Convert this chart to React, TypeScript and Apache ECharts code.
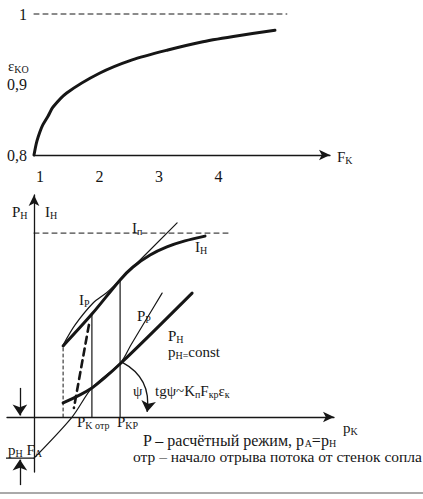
import React, { useEffect, useRef } from "react";
import * as echarts from "echarts";

// ---------- top panel: ε_KO vs F_K ----------
const fkValues = [0.9, 0.925, 0.95, 1.0, 1.05, 1.135, 1.22, 1.45, 2.0, 2.55, 3.15, 3.7, 4.25, 4.95];
const epsKo = [0.8, 0.811, 0.82, 0.833, 0.843, 0.855, 0.868, 0.888, 0.916, 0.935, 0.949, 0.96, 0.968, 0.977];
const epsLimit = 1;
const epsLimitEndFk = 5.15;
const fkTicks = [1, 2, 3, 4];
const epsTicks = [0.8, 0.9, 1];
const epsTickLabels = ["0,8", "0,9", "1"];

// ---------- bottom panel: P, I vs p_K (schematic units) ----------
const iH_pk = [0.97, 1.93, 2.87, 3.3, 3.87, 4.43, 5.03, 5.7];
const iH = [2.37, 3.43, 4.57, 5.0, 5.4, 5.67, 5.87, 6.03];
const iP_pk = [0.97, 1.37, 1.97, 2.43, 2.87, 4.77];
const iP = [2.4, 3.07, 3.8, 4.15, 4.57, 6.47];
const iVac = 6.13;
const iVacEndPk = 6.53;
const pH_pk = [0.97, 1.93, 2.9, 5.27];
const pH = [0.47, 0.97, 1.8, 4.13];
const pP_pk = [0, 1.27, 1.93, 2.9, 3.23, 3.77, 4.27];
const pP = [-1.37, 0, 0.97, 1.83, 2.4, 3.3, 4.13];
const sepDash_pk = [1.83, 1.33];
const sepDash = [3.07, 0.3];
const psiArrow_pk = [2.93, 3.77];
const psiArrow = [1.83, 0.17];
const pHFA = -1.37; // -p_H F_A
const dimArrowPk = -0.47;
const dimTopFrom = 0.97;
const dimBottomFrom = -2.27;
const dimLeftPk = -0.93;

const INK = "#161616";
const FONT = "'Liberation Serif', 'DejaVu Serif', serif";
const FS = 15;
const SUB = 10;

const zip = (xs: number[], ys: number[]) => xs.map((x, i) => [x, ys[i]]);

function makeRich(fs: number) {
  return {
    a: { fontFamily: FONT, fontSize: fs, fill: INK, color: INK },
    s: { fontFamily: FONT, fontSize: SUB, fill: INK, color: INK, padding: [6, 0, 0, 0] },
  };
}

function txt(text: string, x: number, y: number, fs: number = FS) {
  return {
    type: "text",
    x,
    y,
    silent: true,
    style: {
      text,
      fill: INK,
      fontFamily: FONT,
      fontSize: fs,
      textAlign: "left",
      textVerticalAlign: "middle",
      verticalAlign: "middle",
      rich: makeRich(fs),
    },
  };
}

function lineSeries(data: number[][], grid: number, width: number, extra: any = {}) {
  return {
    type: "line",
    xAxisIndex: grid,
    yAxisIndex: grid,
    data,
    showSymbol: false,
    symbol: "none",
    silent: true,
    clip: false,
    smooth: extra.smooth ?? false,
    lineStyle: { color: INK, width, type: extra.type ?? "solid", cap: "round", join: "round" },
  };
}

function arrowSeries(coords: number[][][], curveness = 0) {
  return {
    type: "lines",
    coordinateSystem: "cartesian2d",
    xAxisIndex: 1,
    yAxisIndex: 1,
    clip: false,
    silent: true,
    symbol: ["none", "arrow"],
    symbolSize: [7, 11],
    lineStyle: { color: INK, width: 1.3, curveness, opacity: 1 },
    data: coords.map((c) => ({ coords: c })),
  };
}

export default function App() {
  const ref = useRef<HTMLDivElement>(null);
  useEffect(() => {
    document.body.style.margin = "0";
    const chart = echarts.init(ref.current!, null, { renderer: "svg" });
    const axisLineStyle = { color: INK, width: 1.3 };
    const option: any = {
      animation: false,
      backgroundColor: "#ffffff",
      textStyle: { fontFamily: FONT },
      grid: [
        { left: 34, top: 14, width: 296, height: 141 },
        { left: 7, top: 195, width: 327, height: 277 },
      ],
      xAxis: [
        {
          gridIndex: 0,
          type: "value",
          min: 0.9,
          max: 5.875,
          axisLine: { show: true, symbol: ["none", "arrow"], symbolSize: [8, 11], lineStyle: axisLineStyle },
          axisTick: { show: false },
          splitLine: { show: false },
          axisLabel: {
            customValues: fkTicks,
            margin: 13,
            fontFamily: FONT,
            fontSize: 16,
            color: INK,
            formatter: (v: number) => String(v),
          },
        },
        {
          gridIndex: 1,
          type: "value",
          min: -0.9,
          max: 10,
          axisLine: { show: true, onZero: true, symbol: ["none", "arrow"], symbolSize: [8, 11], lineStyle: axisLineStyle },
          axisTick: { show: false },
          splitLine: { show: false },
          axisLabel: { show: false },
        },
      ],
      yAxis: [
        {
          gridIndex: 0,
          type: "value",
          min: 0.8,
          max: 1,
          axisLine: { show: false },
          axisTick: { show: false },
          splitLine: { show: false },
          axisLabel: {
            customValues: epsTicks,
            margin: 7,
            fontFamily: FONT,
            fontSize: 16,
            color: INK,
            formatter: (v: number) => epsTickLabels[epsTicks.indexOf(v)] ?? "",
          },
        },
        {
          gridIndex: 1,
          type: "value",
          min: -1.833,
          max: 7.4,
          axisLine: { show: true, onZero: true, symbol: ["none", "arrow"], symbolSize: [8, 11], lineStyle: axisLineStyle },
          axisTick: { show: false },
          splitLine: { show: false },
          axisLabel: { show: false },
        },
      ],
      series: [
        // top
        lineSeries(zip(fkValues, epsKo), 0, 3, { smooth: 0.25 }),
        lineSeries([[fkValues[0], epsLimit], [epsLimitEndFk, epsLimit]], 0, 1, { type: [5, 4] }),
        // bottom
        lineSeries([[0, iVac], [iVacEndPk, iVac]], 1, 1, { type: [5, 4] }),
        lineSeries(zip(iH_pk, iH), 1, 3, { smooth: 0.3 }),
        lineSeries(zip(iP_pk, iP), 1, 1.2, { smooth: 0.3 }),
        lineSeries(zip(pH_pk, pH), 1, 3, { smooth: 0.3 }),
        lineSeries(zip(pP_pk, pP), 1, 1.2, { smooth: 0.3 }),
        lineSeries([[iH_pk[0], 0], [iH_pk[0], iH[0]]], 1, 1, { type: [3, 3] }),
        lineSeries([[iH_pk[1], 0], [iH_pk[1], iH[1]]], 1, 1.2),
        lineSeries([[iH_pk[2], 0], [iH_pk[2], iH[2]]], 1, 1.2),
        lineSeries(zip(sepDash_pk, sepDash), 1, 2.6, { type: [7, 5] }),
        lineSeries([[dimLeftPk, pHFA], [0, pHFA]], 1, 1.2),
        arrowSeries([
          [[dimArrowPk, dimTopFrom], [dimArrowPk, 0.05]],
          [[dimArrowPk, dimBottomFrom], [dimArrowPk, pHFA - 0.05]],
        ]),
        arrowSeries([[[psiArrow_pk[0], psiArrow[0]], [psiArrow_pk[1], psiArrow[1]]]], 0.35),
      ],
      graphic: [
        txt("{a|ε}{s|KO}", 8, 66),
        txt("{a|F}{s|K}", 337, 157),
        txt("{a|P}{s|H}", 12, 212),
        txt("{a|I}{s|H}", 45, 212),
        txt("{a|I}{s|п}", 132, 228),
        txt("{a|I}{s|H}", 195, 247),
        txt("{a|I}{s|Р}", 79, 300),
        txt("{a|P}{s|Р}", 137, 316),
        txt("{a|P}{s|H}", 168, 336),
        txt("{a|p}{s|H=}{a|const}", 168, 352),
        txt("{a|ψ}", 133, 391),
        txt("{a|tgψ~K}{s|п}{a|F}{s|кр}{a|ε}{s|к}", 155, 391),
        txt("{a|P}{s|K отр}", 77, 422),
        txt("{a|P}{s|KP}", 117, 422),
        txt("{a|p}{s|K}", 343, 428),
        txt("{a|p}{s|H}{a| F}{s|A}", 8, 450),
        txt("{a|P – расчётный режим, p}{s|A}{a|=p}{s|H}", 143, 440, 16),
        txt("{a|отр – начало отрыва потока от стенок сопла}", 133, 456, 15.5),
        {
          type: "line",
          silent: true,
          shape: { x1: 0, y1: 493, x2: 423, y2: 493 },
          style: { stroke: "#555", lineWidth: 1 },
        },
      ],
    };
    chart.setOption(option);
    return () => chart.dispose();
  }, []);
  return <div ref={ref} style={{ width: 423, height: 499, background: "#fff" }} />;
}
